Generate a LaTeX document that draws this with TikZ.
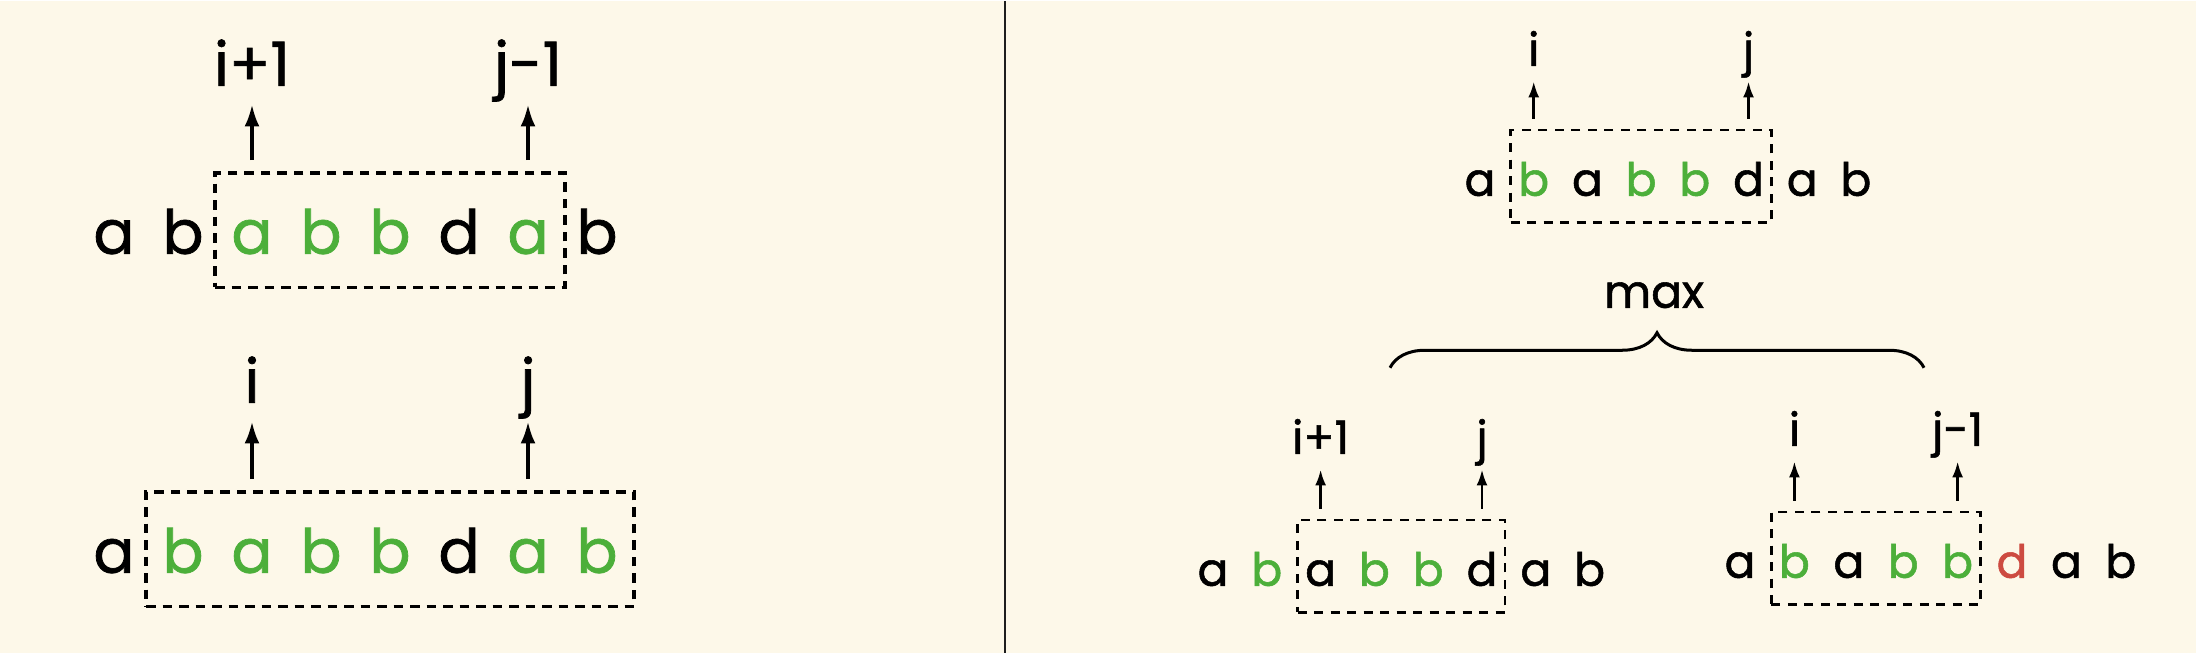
\documentclass[tikz,border=0pt]{standalone}
\usepackage{fontspec}
\setmainfont{Poppins}[FakeBold=1.2,UprightFont=*,BoldFont=*]
\usetikzlibrary{arrows.meta,calc,fit,decorations.pathreplacing}

\begin{document}
\begin{tikzpicture}[x=0.1mm,y=0.1mm,
  bigch/.style={inner sep=0,anchor=base,text height=8mm,text depth=3.3mm,font=\fontsize{17.3}{20}\selectfont\bfseries},
  smallch/.style={inner sep=0,anchor=base,text height=6.5mm,text depth=2.6mm,font=\fontsize{13}{15}\selectfont\bfseries},
  bigidx/.style={inner sep=0,anchor=base,text depth=1.8mm,font=\fontsize{17.3}{20}\selectfont\bfseries},
  smallidx/.style={inner sep=0,anchor=base,text depth=1.5mm,font=\fontsize{13}{15}\selectfont\bfseries},
  bigbox/.style={draw,line width=0.38mm,dash pattern=on 0.95mm off 0.7mm,inner xsep=3.7mm,inner ysep=0},
  smallbox/.style={draw,line width=0.28mm,dash pattern=on 0.9mm off 0.75mm,inner xsep=2.3mm,inner ysep=0},
  bigptr/.style={line width=0.36mm,-{Latex[length=2.2mm,width=1.5mm]},shorten <=1.1mm},
  smallptr/.style={line width=0.27mm,-{Latex[length=1.6mm,width=1.1mm]},shorten <=1mm}]
\definecolor{parchment}{HTML}{FDF8E9}
\definecolor{leafgreen}{HTML}{4CAF3A}
\definecolor{brick}{HTML}{CD4B41}
\definecolor{ink}{HTML}{1E1E1E}
\fill[parchment] (0,0) rectangle (2196,652);
\draw[ink,line width=0.15mm] (1005,0) -- (1005,652);
% left, top row
  \foreach \ch/\crlr [count=\k] in {a/black,b/black,a/leafgreen,b/leafgreen,b/leafgreen,d/black,a/leafgreen,b/black}
  {  \node [bigch,text=\crlr] (lt\k) at (114+69*\k-69,399) {\ch};}
\node [bigbox,fit=(lt3.north)(lt7.south)] (ltbox) {};
\node [bigidx] (lti) at ($(lt3.base)+(0,168)$) {i+1};
\node [bigidx] (ltj) at ($(lt7.base)+(0,168)$) {j-1};
\draw [bigptr] (lt3 |- ltbox.north) -- (lti.south);
\draw [bigptr] (lt7 |- ltbox.north) -- (ltj.south);
% left, bottom row
  \foreach \ch/\crlr [count=\k] in {a/black,b/leafgreen,a/leafgreen,b/leafgreen,b/leafgreen,d/black,a/leafgreen,b/leafgreen}
  {  \node [bigch,text=\crlr] (lb\k) at (114+69*\k-69,80) {\ch};}
\node [bigbox,fit=(lb2.north)(lb8.south)] (lbbox) {};
\node [bigidx] (lbi) at ($(lb3.base)+(0,170)$) {i};
\node [bigidx] (lbj) at ($(lb7.base)+(0,170)$) {j};
\draw [bigptr] (lb3 |- lbbox.north) -- (lbi.south);
\draw [bigptr] (lb7 |- lbbox.north) -- (lbj.south);
% right, top row
  \foreach \ch/\crlr [count=\k] in {a/black,b/leafgreen,a/black,b/leafgreen,b/leafgreen,d/black,a/black,b/black}
  {  \node [smallch,text=\crlr] (rt\k) at (1480+53.7*\k-53.7,457) {\ch};}
\node [smallbox,fit=(rt2.north)(rt6.south)] (rtbox) {};
\node [smallidx] (rti) at ($(rt2.base)+(0,130)$) {i};
\node [smallidx] (rtj) at ($(rt6.base)+(0,130)$) {j};
\draw [smallptr] (rt2 |- rtbox.north) -- (rti.south);
\draw [smallptr] (rt6 |- rtbox.north) -- (rtj.south);
% max brace
\coordinate (bl) at (1390,285);
\coordinate (br) at (1924,285);
\draw [line width=0.3mm,decorate,decoration={brace,amplitude=3.5mm}] (bl) -- (br);
\node [inner sep=0,anchor=base,font=\fontsize{13}{15}\selectfont] (mx) at (1654,345) {max};
% right, bottom left row
  \foreach \ch/\crlr [count=\k] in {a/black,b/leafgreen,a/black,b/leafgreen,b/leafgreen,d/black,a/black,b/black}
  {  \node [smallch,text=\crlr] (rl\k) at (1213+53.8*\k-53.8,67) {\ch};}
\node [smallbox,fit=(rl3.north)(rl6.south)] (rlbox) {};
\node [smallidx] (rli) at ($(rl3.base)+(0,132)$) {i+1};
\node [smallidx] (rlj) at ($(rl6.base)+(0,132)$) {j};
\draw [smallptr] (rl3 |- rlbox.north) -- (rli.south);
\draw [smallptr] (rl6 |- rlbox.north) -- (rlj.south);
% right, bottom right row
  \foreach \ch/\crlr [count=\k] in {a/black,b/leafgreen,a/black,b/leafgreen,b/leafgreen,d/brick,a/black,b/black}
  {  \node [smallch,text=\crlr] (rr\k) at (1740+54.4*\k-54.4,75) {\ch};}
\node [smallbox,fit=(rr2.north)(rr5.south)] (rrbox) {};
\node [smallidx] (rri) at ($(rr2.base)+(0,132)$) {i};
\node [smallidx] (rrj) at ($(rr5.base)+(0,132)$) {j-1};
\draw [smallptr] (rr2 |- rrbox.north) -- (rri.south);
\draw [smallptr] (rr5 |- rrbox.north) -- (rrj.south);
\end{tikzpicture}
\end{document}
